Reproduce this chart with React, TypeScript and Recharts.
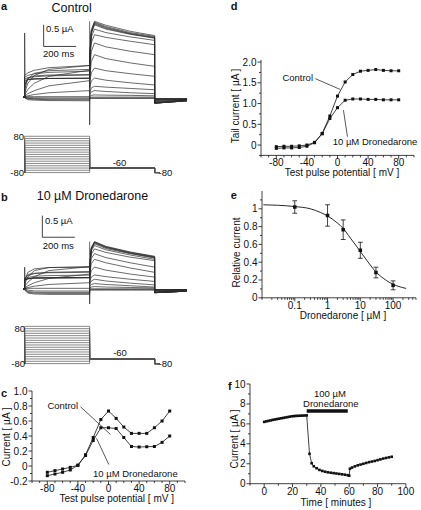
import React from 'react';
import {
  LineChart,
  Line,
  ComposedChart,
  Scatter,
  ErrorBar,
  XAxis,
  YAxis,
  ReferenceLine,
} from 'recharts';

const FONT = 'Arial, "Liberation Sans", Helvetica, sans-serif';
const INK = '#111';

// test potentials (mV), shared by c, d and the trace families
const potentials = [-80, -70, -60, -50, -40, -30, -20, -10, 0, 10, 20, 30, 40, 50, 60, 70, 80];

// c: current at end of test pulse (µA)
const ivControl = [-0.084, -0.062, -0.04, -0.018, 0.01, 0.15, 0.38, 0.62, 0.733, 0.635, 0.52, 0.435, 0.435, 0.435, 0.51, 0.6, 0.733];
const ivDrone = [-0.129, -0.107, -0.084, -0.053, 0.01, 0.14, 0.34, 0.51, 0.51, 0.5, 0.38, 0.26, 0.253, 0.257, 0.26, 0.315, 0.4];

// d: tail current (µA)
const tailControl = [-0.04, -0.03, -0.03, -0.02, 0.0, 0.064, 0.28, 0.7, 1.18, 1.52, 1.7, 1.78, 1.8, 1.82, 1.8, 1.79, 1.79];
const tailDrone = [-0.08, -0.07, -0.07, -0.06, -0.03, 0.055, 0.27, 0.64, 0.9, 1.08, 1.11, 1.11, 1.1, 1.1, 1.09, 1.09, 1.09];

// e: concentration-response
const doseConc = [0.1, 1, 3, 10, 30, 100];
const doseRel = [1.02, 0.925, 0.765, 0.534, 0.284, 0.14];
const doseErr = [0.07, 0.12, 0.11, 0.09, 0.06, 0.05];
const fitConc = [0.011, 0.03, 0.1, 0.3, 0.6, 1, 2, 3, 5, 8, 12, 20, 30, 50, 80, 130, 250];
const fitRel = [1.045, 1.04, 1.025, 1.0, 0.96, 0.92, 0.84, 0.78, 0.67, 0.57, 0.48, 0.37, 0.29, 0.22, 0.17, 0.135, 0.105];

// f: time course
const timeMin = [0, 1.5, 3, 4.5, 6, 7.5, 9, 10.5, 12, 13.5, 15, 16.5, 18, 19.5, 21, 22.5, 24, 25.5, 27, 28.5, 30,
  32, 33.5, 35, 37, 39, 41, 43, 45, 47, 49, 51, 53, 55, 57, 59, 60, 60.5, 62, 64, 66, 68, 70, 72, 74, 76, 78, 80, 82, 84, 86, 88, 90];
const timeCurrent = [6.2, 6.25, 6.3, 6.35, 6.4, 6.44, 6.48, 6.52, 6.56, 6.6, 6.64, 6.68, 6.72, 6.76, 6.78, 6.8, 6.81, 6.82, 6.83, 6.84, 6.85,
  3.0, 2.05, 1.75, 1.55, 1.38, 1.28, 1.2, 1.14, 1.1, 1.06, 1.02, 0.98, 0.94, 0.9, 0.85, 0.8, 1.5, 1.62, 1.74, 1.84, 1.92, 2.0, 2.08, 2.16, 2.22, 2.28, 2.36, 2.44, 2.52, 2.58, 2.64, 2.7];
const drugStart = 30;
const drugEnd = 59;
const drugBarLevel = 7.3;

// a/b current traces, one row per test potential (µA)
const stepTimes = [0, 20, 60, 150, 400];
const tailTimes = [400, 410, 430, 500, 650, 800];
const postTimes = [800, 1000];

const ctrlStep = [
  [-0.02, -0.06, -0.07, -0.08, -0.085], [-0.01, -0.04, -0.05, -0.06, -0.062], [0, -0.03, -0.035, -0.04, -0.04],
  [0, -0.01, -0.015, -0.018, -0.018], [0, 0.01, 0.01, 0.01, 0.01], [0.01, 0.03, 0.06, 0.1, 0.15],
  [0.02, 0.08, 0.15, 0.26, 0.38], [0.05, 0.18, 0.32, 0.48, 0.62], [0.1, 0.32, 0.5, 0.64, 0.73],
  [0.18, 0.42, 0.55, 0.61, 0.64], [0.25, 0.44, 0.49, 0.51, 0.52], [0.3, 0.41, 0.42, 0.43, 0.435],
  [0.33, 0.4, 0.42, 0.43, 0.435], [0.38, 0.41, 0.42, 0.43, 0.435], [0.42, 0.45, 0.47, 0.49, 0.51],
  [0.46, 0.5, 0.54, 0.57, 0.6], [0.5, 0.56, 0.62, 0.68, 0.73],
];
const ctrlTail = [
  [-0.03, -0.03, -0.03, -0.03, -0.03, -0.03], [-0.02, -0.02, -0.02, -0.02, -0.02, -0.02], [0, 0, 0, 0, 0, 0],
  [0.02, 0.04, 0.05, 0.045, 0.04, 0.03], [0.05, 0.12, 0.15, 0.13, 0.1, 0.08], [0.1, 0.21, 0.25, 0.23, 0.2, 0.17],
  [0.2, 0.37, 0.44, 0.39, 0.33, 0.28], [0.3, 0.56, 0.67, 0.61, 0.54, 0.48], [0.4, 0.82, 0.98, 0.89, 0.79, 0.71],
  [0.5, 1.05, 1.25, 1.16, 1.06, 0.98], [0.65, 1.25, 1.44, 1.38, 1.29, 1.21], [0.75, 1.38, 1.57, 1.49, 1.39, 1.31],
  [0.8, 1.46, 1.67, 1.57, 1.45, 1.36], [0.82, 1.48, 1.69, 1.59, 1.46, 1.37], [0.85, 1.5, 1.71, 1.61, 1.47, 1.38],
  [0.88, 1.52, 1.73, 1.63, 1.49, 1.4], [0.9, 1.55, 1.75, 1.66, 1.52, 1.42],
];
const ctrlPost = [
  [-0.04, -0.04], [-0.04, -0.04], [-0.04, -0.04], [-0.04, -0.04], [-0.05, -0.045], [-0.06, -0.05],
  [-0.07, -0.055], [-0.08, -0.06], [-0.1, -0.065], [-0.11, -0.07], [-0.12, -0.075], [-0.13, -0.08],
  [-0.14, -0.085], [-0.14, -0.085], [-0.14, -0.085], [-0.14, -0.085], [-0.14, -0.085],
];
const dronStep = [
  [-0.03, -0.1, -0.12, -0.13, -0.13], [-0.02, -0.08, -0.1, -0.107, -0.107], [-0.01, -0.06, -0.08, -0.084, -0.084],
  [0, -0.03, -0.05, -0.053, -0.053], [0, 0.01, 0.01, 0.01, 0.01], [0.01, 0.03, 0.06, 0.1, 0.14],
  [0.02, 0.07, 0.14, 0.24, 0.34], [0.05, 0.15, 0.28, 0.42, 0.51], [0.1, 0.28, 0.42, 0.49, 0.51],
  [0.18, 0.38, 0.46, 0.49, 0.5], [0.22, 0.33, 0.36, 0.37, 0.38], [0.2, 0.24, 0.25, 0.255, 0.26],
  [0.2, 0.23, 0.245, 0.25, 0.253], [0.2, 0.23, 0.245, 0.25, 0.257], [0.2, 0.235, 0.25, 0.255, 0.26],
  [0.22, 0.26, 0.29, 0.305, 0.315], [0.25, 0.3, 0.35, 0.38, 0.4],
];
const dronTail = [
  [-0.03, -0.03, -0.03, -0.03, -0.03, -0.03], [-0.02, -0.02, -0.02, -0.02, -0.02, -0.02], [0, 0, 0, 0, 0, 0],
  [0.02, 0.04, 0.05, 0.04, 0.03, 0.02], [0.05, 0.1, 0.12, 0.1, 0.07, 0.04], [0.1, 0.18, 0.22, 0.18, 0.13, 0.09],
  [0.15, 0.27, 0.32, 0.28, 0.22, 0.17], [0.22, 0.42, 0.5, 0.43, 0.34, 0.27], [0.3, 0.58, 0.68, 0.6, 0.48, 0.38],
  [0.38, 0.7, 0.81, 0.72, 0.6, 0.5], [0.42, 0.8, 0.92, 0.84, 0.73, 0.65], [0.44, 0.87, 1.0, 0.9, 0.78, 0.68],
  [0.46, 0.9, 1.04, 0.93, 0.81, 0.71], [0.47, 0.92, 1.06, 0.95, 0.82, 0.72], [0.48, 0.93, 1.07, 0.96, 0.83, 0.73],
  [0.5, 0.94, 1.08, 0.97, 0.84, 0.74], [0.5, 0.95, 1.09, 0.98, 0.85, 0.75],
];
const dronPost = [
  [-0.02, -0.02], [-0.02, -0.02], [-0.02, -0.02], [-0.02, -0.02], [-0.03, -0.025], [-0.04, -0.03],
  [-0.05, -0.035], [-0.06, -0.04], [-0.07, -0.045], [-0.08, -0.05], [-0.09, -0.055], [-0.09, -0.055],
  [-0.09, -0.055], [-0.09, -0.055], [-0.09, -0.055], [-0.09, -0.055], [-0.09, -0.055],
];

// capacitive transients at pulse on/off
const artOnT = [0, 0, 2];
const artOffT = [400, 400, 403];
const ctrlArtOn = [0, 1.48, 0.5];
const ctrlArtOff = [1.75, -0.64, 0.9];
const dronArtOn = [0, 0.5, 0.25];
const dronArtOff = [1.09, -0.35, 0.5];

// voltage protocol (mV)
const protoTimes = [0, 0, 400, 400, 800, 800, 830];
const protoHold = -80;
const protoTail = -60;

// axis ticks
const cXMajor = [-80, -40, 0, 40, 80];
const cXLabels = ['-80', '-40', '0', '40', '80'];
const mvMinor = [-100, -90, -70, -60, -50, -30, -20, -10, 10, 20, 30, 50, 60, 70, 90, 100];
const cYMajor = [-0.2, 0, 0.2, 0.4, 0.6, 0.8, 1.0];
const cYLabels = ['-0.2', '0', '0.2', '0.4', '0.6', '0.8', '1.0'];
const cYMinor = [-0.1, 0.1, 0.3, 0.5, 0.7, 0.9];
const dYMajor = [0, 0.5, 1.0, 1.5, 2.0];
const dYLabels = ['0', '0.5', '1.0', '1.5', '2.0'];
const dYMinor = [-0.25, 0.25, 0.75, 1.25, 1.75];
const eXMajor = [0.1, 1, 10, 100];
const eXLabels = ['0.1', '1', '10', '100'];
const eYMajor = [0, 0.2, 0.4, 0.6, 0.8, 1];
const eYLabels = ['0', '0.2', '0.4', '0.6', '0.8', '1'];
const eYMinor = [0.1, 0.3, 0.5, 0.7, 0.9, 1.1];
const fXMajor = [0, 20, 40, 60, 80, 100];
const fXLabels = ['0', '20', '40', '60', '80', '100'];
const fXMinor = [-10, 10, 30, 50, 70, 90];
const fYMajor = [0, 2, 4, 6, 8, 10];
const fYLabels = ['0', '2', '4', '6', '8', '10'];
const fYMinor = [1, 3, 5, 7, 9];

const logMinor: number[] = [];
[0.01, 0.1, 1, 10, 100].forEach((d) => {
  for (let k = 2; k <= 9; k++) if (d * k <= 500) logMinor.push(+(d * k).toPrecision(3));
});
logMinor.unshift(0.01);

type AxisSpec = {
  domain: [number, number];
  major: number[];
  labels: string[];
  minor: number[];
  log?: boolean;
  labelDy?: number;
};

const same = (a: number, b: number) => Math.abs(a - b) <= 1e-9 * Math.max(1, Math.abs(a));

const PADL = 30;
const PADT = 5;
const PADB = 20;

const makeXTick = (axisY: number, spec: AxisSpec) => (p: any) => {
  const v = p.payload.value;
  const i = spec.major.findIndex((m) => same(m, v));
  return (
    <g>
      <line x1={p.x} x2={p.x} y1={axisY} y2={axisY + (i >= 0 ? 3.5 : 2)} stroke={INK} strokeWidth={0.8} />
      {i >= 0 && (
        <text x={p.x} y={axisY + (spec.labelDy ?? 11)} textAnchor="middle" fontSize={10} fontFamily={FONT} fill={INK}>
          {spec.labels[i]}
        </text>
      )}
    </g>
  );
};

const makeYTick = (axisX: number, spec: AxisSpec) => (p: any) => {
  const v = p.payload.value;
  const i = spec.major.findIndex((m) => same(m, v));
  return (
    <g>
      <line x1={axisX - (i >= 0 ? 3.5 : 2)} x2={axisX} y1={p.y} y2={p.y} stroke={INK} strokeWidth={0.8} />
      {i >= 0 && (
        <text x={axisX - 4.5} y={p.y} dy="0.35em" textAnchor="end" fontSize={10} fontFamily={FONT} fill={INK}>
          {spec.labels[i]}
        </text>
      )}
    </g>
  );
};

const Square = (size: number) => (p: any) => {
  if (p.cx == null || p.cy == null) return <g key={p.key} />;
  return <rect key={p.key} x={p.cx - size / 2} y={p.cy - size / 2} width={size} height={size} fill={INK} />;
};

interface PlotProps {
  left: number;
  top: number;
  plotW: number;
  plotH: number;
  padR?: number;
  x: AxisSpec;
  y: AxisSpec;
  children: React.ReactNode;
}

const Plot: React.FC<PlotProps> = ({ left, top, plotW, plotH, padR = 6, x, y, children }) => {
  const axisY = PADT + plotH;
  return (
    <div style={{ position: 'absolute', left: left - PADL, top: top - PADT }}>
      <ComposedChart
        width={PADL + plotW + padR}
        height={PADT + plotH + PADB}
        margin={{ top: PADT, right: padR, bottom: 0, left: 0 }}
      >
        <XAxis
          type="number"
          dataKey="x"
          scale={x.log ? 'log' : 'auto'}
          domain={x.domain}
          allowDataOverflow
          ticks={[...x.major, ...x.minor]}
          interval={0}
          tickLine={false}
          axisLine={{ stroke: INK, strokeWidth: 0.8 }}
          height={PADB}
          tick={makeXTick(axisY, x)}
        />
        <YAxis
          type="number"
          dataKey="y"
          domain={y.domain}
          allowDataOverflow
          ticks={[...y.major, ...y.minor]}
          interval={0}
          tickLine={false}
          axisLine={{ stroke: INK, strokeWidth: 0.8 }}
          width={PADL}
          tick={makeYTick(PADL, y)}
        />
        {children}
      </ComposedChart>
    </div>
  );
};

// trace geometry: 0.1625 px per ms, 43.3 px per µA
const PX_PER_MS = 0.1625;
const PX_PER_UA = 43.3;
const T_DOMAIN: [number, number] = [-10, 1000];
const TRACE_LEFT = 25 + T_DOMAIN[0] * PX_PER_MS;
const TRACE_W = (T_DOMAIN[1] - T_DOMAIN[0]) * PX_PER_MS;

const buildTrace = (step: number[], tail: number[], post: number[]) => [
  { t: T_DOMAIN[0], v: 0 },
  { t: 0, v: 0 },
  ...stepTimes.map((t, i) => ({ t, v: step[i] })),
  ...tailTimes.map((t, i) => ({ t, v: tail[i] })),
  ...postTimes.map((t, i) => ({ t, v: post[i] })),
];

interface TraceProps {
  baseline: number;
  yDomain: [number, number];
  step: number[][];
  tail: number[][];
  post: number[][];
  artOn: number[];
  artOff: number[];
  barT: number;
  barI: number;
}

const TraceChart: React.FC<TraceProps> = ({ baseline, yDomain, step, tail, post, artOn, artOff, barT, barI }) => {
  const h = (yDomain[1] - yDomain[0]) * PX_PER_UA;
  const top = baseline - yDomain[1] * PX_PER_UA;
  return (
    <div style={{ position: 'absolute', left: TRACE_LEFT, top }}>
      <LineChart width={TRACE_W} height={h} margin={{ top: 0, right: 0, bottom: 0, left: 0 }}>
        <XAxis type="number" dataKey="t" domain={T_DOMAIN} hide allowDataOverflow />
        <YAxis type="number" domain={yDomain} hide allowDataOverflow />
        {potentials.map((mv, k) => (
          <Line
            key={mv}
            data={buildTrace(step[k], tail[k], post[k])}
            dataKey="v"
            type="linear"
            stroke="#2b2b2b"
            strokeWidth={0.7}
            dot={false}
            isAnimationActive={false}
          />
        ))}
        <Line
          data={artOnT.map((t, i) => ({ t, v: artOn[i] }))}
          dataKey="v"
          stroke="#2b2b2b"
          strokeWidth={0.7}
          dot={false}
          isAnimationActive={false}
        />
        <Line
          data={artOffT.map((t, i) => ({ t, v: artOff[i] }))}
          dataKey="v"
          stroke="#2b2b2b"
          strokeWidth={0.7}
          dot={false}
          isAnimationActive={false}
        />
        <ReferenceLine segment={[{ x: barT, y: barI }, { x: barT, y: barI + 0.5 }]} stroke={INK} strokeWidth={0.8} ifOverflow="visible" />
        <ReferenceLine segment={[{ x: barT, y: barI }, { x: barT + 200, y: barI }]} stroke={INK} strokeWidth={0.8} ifOverflow="visible" />
      </LineChart>
    </div>
  );
};

const ProtocolChart: React.FC<{ v80: number; vm80: number }> = ({ v80, vm80 }) => {
  const pxPerMv = (vm80 - v80) / 160;
  const domain: [number, number] = [-90, 90];
  const top = v80 - (domain[1] - 80) * pxPerMv;
  const h = (domain[1] - domain[0]) * pxPerMv;
  return (
    <div style={{ position: 'absolute', left: TRACE_LEFT, top }}>
      <LineChart width={TRACE_W} height={h} margin={{ top: 0, right: 0, bottom: 0, left: 0 }}>
        <XAxis type="number" dataKey="t" domain={T_DOMAIN} hide allowDataOverflow />
        <YAxis type="number" domain={domain} hide allowDataOverflow />
        {potentials.map((mv) => {
          const levels = [protoHold, mv, mv, protoTail, protoTail, protoHold, protoHold];
          return (
            <Line
              key={mv}
              data={protoTimes.map((t, i) => ({ t, v: levels[i] }))}
              dataKey="v"
              stroke="#555"
              strokeWidth={0.7}
              dot={false}
              isAnimationActive={false}
            />
          );
        })}
      </LineChart>
    </div>
  );
};

const txt = { fontFamily: FONT, fill: INK } as const;

export default function App() {
  const cX: AxisSpec = { domain: [-100, 100], major: cXMajor, labels: cXLabels, minor: mvMinor };
  const dX: AxisSpec = { ...cX, labelDy: 10.6 };
  const cY: AxisSpec = { domain: [-0.2, 1.0], major: cYMajor, labels: cYLabels, minor: cYMinor };
  const dY: AxisSpec = { domain: [-0.25, 2.05], major: dYMajor, labels: dYLabels, minor: dYMinor };
  const eX: AxisSpec = { domain: [0.01, 500], major: eXMajor, labels: eXLabels, minor: logMinor, log: true };
  const eY: AxisSpec = { domain: [0, 1.2], major: eYMajor, labels: eYLabels, minor: eYMinor };
  const fX: AxisSpec = { domain: [-10, 100], major: fXMajor, labels: fXLabels, minor: fXMinor };
  const fY: AxisSpec = { domain: [0, 10], major: fYMajor, labels: fYLabels, minor: fYMinor };

  const ivC = potentials.map((x, i) => ({ x, y: ivControl[i] }));
  const ivD = potentials.map((x, i) => ({ x, y: ivDrone[i] }));
  const tlC = potentials.map((x, i) => ({ x, y: tailControl[i] }));
  const tlD = potentials.map((x, i) => ({ x, y: tailDrone[i] }));
  const dosePts = doseConc.map((x, i) => ({ x, y: doseRel[i], e: doseErr[i] }));
  const fitPts = fitConc.map((x, i) => ({ x, y: fitRel[i] }));
  const timePts = timeMin.map((x, i) => ({ x, y: timeCurrent[i] }));

  return (
    <div style={{ position: 'absolute', left: 0, top: 0, width: 421, height: 510, background: '#fff', overflow: 'hidden' }}>
      {/* a */}
      <TraceChart baseline={97.3} yDomain={[-0.7, 1.85]} step={ctrlStep} tail={ctrlTail} post={ctrlPost}
        artOn={ctrlArtOn} artOff={ctrlArtOff} barT={117} barI={1.17} />
      <ProtocolChart v80={136} vm80={172.3} />
      {/* b */}
      <TraceChart baseline={288.3} yDomain={[-0.4, 1.75]} step={dronStep} tail={dronTail} post={dronPost}
        artOn={dronArtOn} artOff={dronArtOff} barT={109} barI={1.19} />
      <ProtocolChart v80={326} vm80={363.3} />

      {/* c */}
      <Plot left={32} top={391} plotW={153} plotH={90} x={cX} y={cY}>
        <Line data={ivC} dataKey="y" type="linear" stroke={INK} strokeWidth={0.8} dot={Square(3)} isAnimationActive={false} />
        <Line data={ivD} dataKey="y" type="linear" stroke={INK} strokeWidth={0.8} dot={Square(3)} isAnimationActive={false} />
        <ReferenceLine segment={[{ x: -36.6, y: 0.79 }, { x: 2.6, y: 0.42 }]} stroke={INK} strokeWidth={0.7} />
        <ReferenceLine segment={[{ x: 0.4, y: 0.02 }, { x: -15.7, y: 0.37 }]} stroke={INK} strokeWidth={0.7} />
      </Plot>

      {/* d */}
      <Plot left={261} top={60} plotW={153} plotH={95.4} x={dX} y={dY}>
        <Line data={tlC} dataKey="y" type="linear" stroke={INK} strokeWidth={0.8} dot={Square(3)} isAnimationActive={false} />
        <Line data={tlD} dataKey="y" type="linear" stroke={INK} strokeWidth={0.8} dot={Square(3)} isAnimationActive={false} />
        <ReferenceLine segment={[{ x: -29, y: 1.6 }, { x: 3.5, y: 1.34 }]} stroke={INK} strokeWidth={0.7} />
        <ReferenceLine segment={[{ x: 13, y: 0.2 }, { x: 7.8, y: 0.84 }]} stroke={INK} strokeWidth={0.7} />
      </Plot>

      {/* e */}
      <Plot left={262} top={191.2} plotW={154} plotH={106.8} padR={5} x={eX} y={eY}>
        <Line data={fitPts} dataKey="y" type="monotone" stroke={INK} strokeWidth={0.9} dot={false} isAnimationActive={false} />
        <Scatter data={dosePts} dataKey="y" fill={INK} isAnimationActive={false}
          shape={(p: any) => <rect x={p.cx - 1.75} y={p.cy - 1.75} width={3.5} height={3.5} fill={INK} />}>
          <ErrorBar dataKey="e" direction="y" width={2.4} stroke={INK} strokeWidth={0.8} isAnimationActive={false} />
        </Scatter>
      </Plot>

      {/* f */}
      <Plot left={250.4} top={384.3} plotW={155.9} plotH={99.7} padR={13} x={fX} y={fY}>
        <Line data={timePts} dataKey="y" type="linear" stroke={INK} strokeWidth={0.8} dot={Square(2.6)} isAnimationActive={false} />
        <ReferenceLine segment={[{ x: drugStart, y: drugBarLevel }, { x: drugEnd, y: drugBarLevel }]} stroke={INK} strokeWidth={3.5} />
      </Plot>

      <svg width={421} height={510} style={{ position: 'absolute', left: 0, top: 0, pointerEvents: 'none' }}>
        <g {...txt}>
          {/* a */}
          <text x={1} y={9.5} fontSize={11} fontWeight="bold">a</text>
          <text x={71.7} y={12} fontSize={12.5} textAnchor="middle">Control</text>
          <text x={46} y={32} fontSize={9.5}>0.5 µA</text>
          <text x={43} y={57} fontSize={9.5}>200 ms</text>
          <text x={24} y={140} fontSize={9.5} textAnchor="end">80</text>
          <text x={24} y={175.5} fontSize={9.5} textAnchor="end">-80</text>
          <text x={119.5} y={166} fontSize={9.5} textAnchor="middle">-60</text>
          <text x={158.5} y={175.5} fontSize={9.5}>-80</text>

          {/* b */}
          <text x={1} y={201} fontSize={11} fontWeight="bold">b</text>
          <text x={36.7} y={200} fontSize={12.5}>10 µM Dronedarone</text>
          <text x={45} y={223.5} fontSize={9.5}>0.5 µA</text>
          <text x={42.7} y={248.5} fontSize={9.5}>200 ms</text>
          <text x={25} y={331.5} fontSize={9.5} textAnchor="end">80</text>
          <text x={25} y={367} fontSize={9.5} textAnchor="end">-80</text>
          <text x={120} y={356} fontSize={9.5} textAnchor="middle">-60</text>
          <text x={158.5} y={367} fontSize={9.5}>-80</text>

          {/* c */}
          <text x={1} y={397} fontSize={11} fontWeight="bold">c</text>
          <text transform="translate(10.2,437) rotate(-90)" fontSize={10} textAnchor="middle">Current [ µA ]</text>
          <text x={116.7} y={502} fontSize={10} textAnchor="middle">Test pulse potential [ mV ]</text>
          <text x={78} y={409} fontSize={9.5} textAnchor="end">Control</text>
          <text x={93} y={477} fontSize={9.5}>10 µM Dronedarone</text>

          {/* d */}
          <text x={230.7} y={10} fontSize={11} fontWeight="bold">d</text>
          <text transform="translate(238.5,106) rotate(-90)" fontSize={10} textAnchor="middle">Tail current [ µA ]</text>
          <text x={342} y={175.5} fontSize={10} textAnchor="middle">Test pulse potential [ mV ]</text>
          <text x={313} y={81} fontSize={9.5} textAnchor="end">Control</text>
          <text x={332.7} y={145} fontSize={9.5}>10 µM Dronedarone</text>

          {/* e */}
          <text x={230.7} y={198.5} fontSize={11} fontWeight="bold">e</text>
          <text transform="translate(240,252.5) rotate(-90)" fontSize={10} textAnchor="middle">Relative current</text>
          <text x={343} y={319.3} fontSize={10} textAnchor="middle">Dronedarone [ µM ]</text>

          {/* f */}
          <text x={228} y={390} fontSize={11} fontWeight="bold">f</text>
          <text transform="translate(237.5,439) rotate(-90)" fontSize={10} textAnchor="middle">Current [ µA ]</text>
          <text x={336} y={505.5} fontSize={10} textAnchor="middle">Time [ minutes ]</text>
          <text x={330} y={396.7} fontSize={9.5} textAnchor="middle">100 µM</text>
          <text x={330.8} y={406.7} fontSize={9.5} textAnchor="middle">Dronedarone</text>
        </g>
      </svg>
    </div>
  );
}
